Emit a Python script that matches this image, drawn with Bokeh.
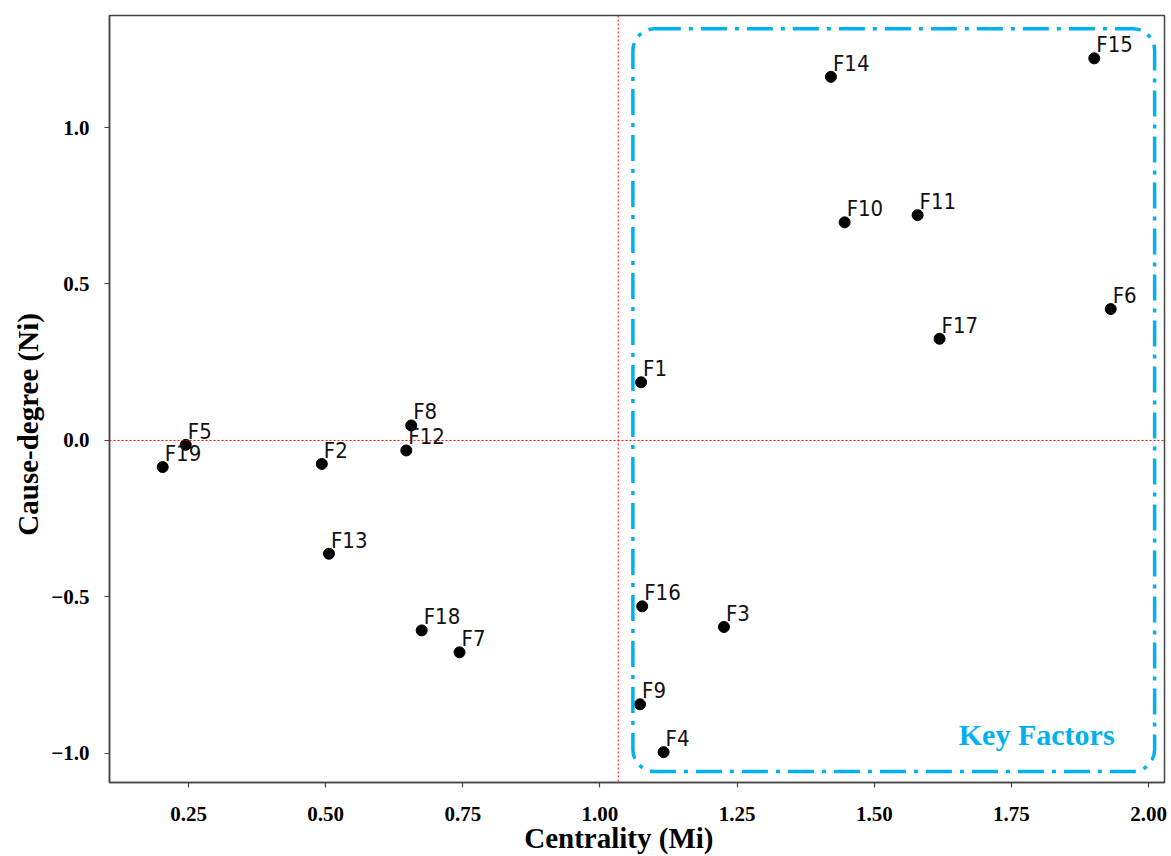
import numpy as np
from bokeh.plotting import figure
from bokeh.models import (ColumnDataSource, LabelSet, Label, Span, FixedTicker,
                          CustomJSTickFormatter, BoxAnnotation)
from bokeh.core.properties import value
from bokeh.embed import file_html
from bokeh.resources import INLINE

# ---------------- data ----------------
factors = ["F1", "F2", "F3", "F4", "F5", "F6", "F7", "F8", "F9", "F10",
           "F11", "F12", "F13", "F14", "F15", "F16", "F17", "F18", "F19"]
centrality = [1.075, 0.493, 1.226, 1.116, 0.245, 1.931, 0.744, 0.656, 1.073, 1.446,
              1.579, 0.647, 0.506, 1.421, 1.901, 1.077, 1.619, 0.675, 0.203]
cause_degree = [0.186, -0.075, -0.596, -0.996, -0.014, 0.420, -0.677, 0.048, -0.843, 0.697,
                0.720, -0.032, -0.362, 1.162, 1.221, -0.530, 0.325, -0.607, -0.085]

x_ticks = [0.25, 0.50, 0.75, 1.00, 1.25, 1.50, 1.75, 2.00]
x_tick_labels = ["0.25", "0.50", "0.75", "1.00", "1.25", "1.50", "1.75", "2.00"]
y_ticks = [-1.0, -0.5, 0.0, 0.5, 1.0]
y_tick_labels = ["\u22121.0", "\u22120.5", "0.0", "0.5", "1.0"]

x_title = "Centrality (Mi)"
y_title = "Cause-degree (Ni)"

threshold_x = float(np.mean(centrality))
threshold_y = 0.0

W, H = 1171, 856
NB = "\u00a0"

# ---------------- figure ----------------
p = figure(width=W, height=H,
           x_range=(0.106, 2.029), y_range=(-1.093, 1.358),
           output_backend="svg", toolbar_location=None,
           min_border_left=109, min_border_right=7,
           min_border_top=15, min_border_bottom=74)
p.xgrid.visible = False
p.ygrid.visible = False
p.background_fill_color = "white"
p.border_fill_color = "white"
p.outline_line_color = "#444444"
p.outline_line_width = 1.5

p.xaxis.ticker = FixedTicker(ticks=x_ticks)
p.yaxis.ticker = FixedTicker(ticks=y_ticks)
p.xaxis.formatter = CustomJSTickFormatter(args=dict(labels=x_tick_labels),
                                          code="return labels[index]")
p.yaxis.formatter = CustomJSTickFormatter(args=dict(labels=y_tick_labels),
                                          code="return labels[index]")
for ax in (p.xaxis[0], p.yaxis[0]):
    ax.axis_line_color = "#444444"
    ax.axis_line_width = 1.5
    ax.major_tick_line_color = "#444444"
    ax.major_tick_line_width = 1.2
    ax.major_tick_out = 5
    ax.major_tick_in = 0
    ax.minor_tick_line_color = None
    ax.major_label_text_font = "Liberation Serif"
    ax.major_label_text_font_style = "bold"
    ax.major_label_text_font_size = "21px"
    ax.major_label_text_color = "black"
    ax.axis_label_text_font = "Liberation Serif"
    ax.axis_label_text_font_style = "bold"
    ax.axis_label_text_font_size = "29px"
    ax.axis_label_text_color = "black"
p.xaxis.major_label_standoff = 19
p.yaxis.major_label_standoff = 15
# trailing no-break spaces shift the centred titles like in the reference
p.xaxis.axis_label = x_title + NB * 5
p.yaxis.axis_label = y_title + NB * 7
p.xaxis.axis_label_standoff = -2
p.yaxis.axis_label_standoff = 4

# reference lines
p.add_layout(Span(location=threshold_y, dimension="width", line_color="#ff0000",
                  line_dash="2 2", line_width=1))
p.add_layout(Span(location=threshold_x, dimension="height", line_color="#ff0000",
                  line_dash="2 2", line_width=1))

# key factors box
p.add_layout(BoxAnnotation(left=1.060, right=2.011, top=1.316, bottom=-1.058,
                           fill_alpha=0, fill_color=None,
                           line_color="#00B0F0", line_alpha=1.0, line_width=3.5,
                           line_dash="26 8 4 8", border_radius=22))
p.add_layout(Label(x=1.796, y=-0.939, text="Key Factors", text_align="center",
                   text_baseline="alphabetic", text_font="Liberation Serif",
                   text_font_style="bold", text_font_size="30px",
                   text_color="#00B0F0"))

# points
src = ColumnDataSource(dict(x=centrality, y=cause_degree, name=factors))
p.scatter(x="x", y="y", source=src, size=11, color="black")
p.add_layout(LabelSet(x="x", y="y", text="name", source=src, x_offset=2, y_offset=6,
                      text_font=value("DejaVu Sans Condensed, Liberation Sans"),
                      text_font_size="22px",
                      text_color="#111111", text_baseline="alphabetic"))

open("out.html", "w").write(file_html(p, INLINE))
